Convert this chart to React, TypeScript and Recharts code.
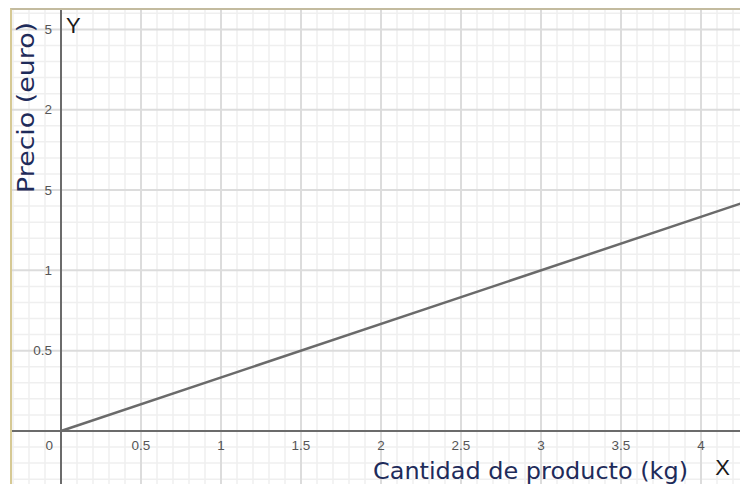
import React from 'react';
import { LineChart, Line, XAxis, YAxis, ReferenceLine, ReferenceDot } from 'recharts';

// Price line: precio = cantidad / 3
const lineX = [0, 4.5];
const lineY = [0, 1.5];

const xTickValues = [0.5, 1, 1.5, 2, 2.5, 3, 3.5, 4];
const xTickLabels = ['0.5', '1', '1.5', '2', '2.5', '3', '3.5', '4'];
const yTickValues = [0.5, 1, 1.5, 2, 2.5];
const yTickLabels = ['0.5', '1', '5', '2', '5'];

const xDomain: [number, number] = [-0.3125, 4.24375];
const yDomain: [number, number] = [-0.33, 2.621];

const xTitle = 'Cantidad de producto (kg)';
const yTitle = 'Precio (euro)';

const data = lineX.map((x, i) => ({ x, y: lineY[i] }));

// grid positions every 0.1 inside the visible range
const steps = (lo: number, hi: number) => {
  const out: number[] = [];
  for (let k = Math.ceil(lo * 10); k <= Math.floor(hi * 10); k++) out.push(k / 10);
  return out;
};
const isMajor = (v: number) => Math.abs(v * 2 - Math.round(v * 2)) < 1e-6;
const minorX = steps(xDomain[0], xDomain[1]).filter((v) => !isMajor(v));
const minorY = steps(yDomain[0], yDomain[1]).filter((v) => !isMajor(v));
const majorX = steps(xDomain[0], xDomain[1]).filter((v) => isMajor(v) && v !== 0);
const majorY = steps(yDomain[0], yDomain[1]).filter((v) => isMajor(v) && v !== 0);

const tickFont = { fontFamily: '"Liberation Sans", Arial, sans-serif', fontSize: 13.5, fill: '#555' };
const titleFont = { fontFamily: '"DejaVu Sans", sans-serif', fontSize: 23, fill: '#1e2b5a' };
const letterFont = { fontFamily: '"Liberation Sans", Arial, sans-serif', fontSize: 22, fill: '#1a1a1a' };

export default function App() {
  return (
    <div style={{ position: 'absolute', left: 0, top: 0, width: 740, height: 484, background: '#fff' }}>
      <LineChart width={740} height={484} data={data} margin={{ top: 10, right: 0, bottom: 0, left: 11 }}>
        <XAxis dataKey="x" type="number" domain={xDomain} allowDataOverflow hide />
        <YAxis dataKey="y" type="number" domain={yDomain} allowDataOverflow hide />

        {minorX.map((v) => (
          <ReferenceLine key={'mx' + v} x={v} stroke="#efefef" strokeWidth={1.5} />
        ))}
        {minorY.map((v) => (
          <ReferenceLine key={'my' + v} y={v} stroke="#efefef" strokeWidth={1.5} />
        ))}
        {majorX.map((v) => (
          <ReferenceLine key={'Mx' + v} x={v} stroke="#dcdcdc" strokeWidth={2} />
        ))}
        {majorY.map((v) => (
          <ReferenceLine key={'My' + v} y={v} stroke="#dcdcdc" strokeWidth={2} />
        ))}

        <ReferenceLine x={0} stroke="#6b6b6b" strokeWidth={2} />
        <ReferenceLine y={0} stroke="#6b6b6b" strokeWidth={2} />

        {xTickValues.map((v, i) => (
          <ReferenceDot
            key={'xt' + v}
            x={v}
            y={0}
            r={0}
            ifOverflow="visible"
            shape={(p: any) => (
              <text x={p.cx} y={p.cy + 19.5} textAnchor="middle" {...tickFont}>
                {xTickLabels[i]}
              </text>
            )}
          />
        ))}
        {yTickValues.map((v, i) => (
          <ReferenceDot
            key={'yt' + v}
            x={0}
            y={v}
            r={0}
            ifOverflow="visible"
            shape={(p: any) => (
              <text x={p.cx - 9} y={p.cy + 4.5} textAnchor="end" {...tickFont}>
                {yTickLabels[i]}
              </text>
            )}
          />
        ))}
        <ReferenceDot
          x={0}
          y={0}
          r={0}
          ifOverflow="visible"
          shape={(p: any) => (
            <text x={p.cx - 8} y={p.cy + 19.5} textAnchor="end" {...tickFont}>
              0
            </text>
          )}
        />

        <Line
          dataKey="y"
          stroke="#6a6a6a"
          strokeWidth={2.5}
          dot={false}
          activeDot={false}
          isAnimationActive={false}
        />

        <ReferenceDot
          x={0}
          y={yDomain[1]}
          r={0}
          ifOverflow="visible"
          shape={(p: any) => (
            <text x={p.cx + 5} y={p.cy + 23} {...letterFont}>
              Y
            </text>
          )}
        />
        <ReferenceDot
          x={xDomain[1]}
          y={0}
          r={0}
          ifOverflow="visible"
          shape={(p: any) => (
            <text x={p.cx - 10} y={p.cy + 44} textAnchor="end" {...letterFont}>
              X
            </text>
          )}
        />
        <ReferenceDot
          x={xDomain[1]}
          y={0}
          r={0}
          ifOverflow="visible"
          shape={(p: any) => (
            <text
              x={p.cx - 52}
              y={p.cy + 48}
              textAnchor="end"
              textLength={315}
              lengthAdjust="spacingAndGlyphs"
              {...titleFont}
            >
              {xTitle}
            </text>
          )}
        />
        <ReferenceDot
          x={xDomain[0]}
          y={0}
          r={0}
          ifOverflow="visible"
          shape={(p: any) => (
            <text
              x={p.cx + 23}
              y={p.cy - 238}
              transform={`rotate(-90 ${p.cx + 23} ${p.cy - 238})`}
              textLength={171}
              lengthAdjust="spacingAndGlyphs"
              {...titleFont}
            >
              {yTitle}
            </text>
          )}
        />
      </LineChart>
      <div
        style={{
          position: 'absolute',
          left: 10,
          top: 8,
          width: 728,
          height: 474,
          borderTop: '2px solid #c3bb9f',
          borderLeft: '2px solid #d6c994',
          pointerEvents: 'none',
        }}
      />
    </div>
  );
}
